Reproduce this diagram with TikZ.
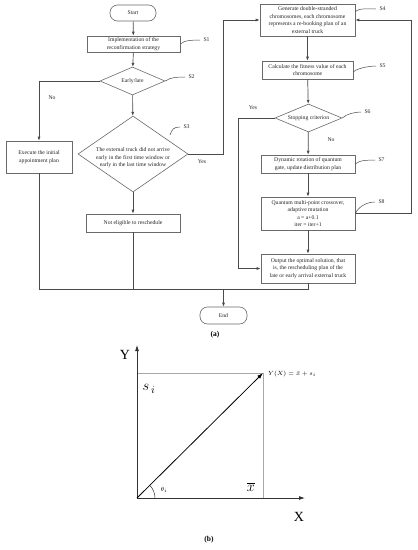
\documentclass[tikz,border=0pt]{standalone}
\usepackage{fontspec}
\setmainfont{Liberation Serif}
\usetikzlibrary{shapes.geometric,arrows.meta,calc}
\definecolor{boxgray}{HTML}{6A6A6A}
\definecolor{linegray}{HTML}{4A4A4A}
\definecolor{guidegray}{HTML}{A8A8A8}
\begin{document}
\begin{tikzpicture}[x=1pt,y=-1pt,
 box/.style={draw=boxgray, line width=0.6pt, rectangle, align=center, font=\fontsize{5.7}{7.6}\selectfont, inner sep=0pt, text=black!85},
 term/.style={box, rounded corners=7.5pt},
 dia/.style={draw=boxgray, line width=0.6pt, diamond, inner sep=0pt},
 txt/.style={font=\fontsize{5.7}{7.6}\selectfont, align=center, text=black!85},
 conn/.style={draw=linegray, line width=0.7pt},
 arr/.style={conn, -{Latex[length=4pt,width=3pt]}},
 lead/.style={draw=linegray, line width=0.5pt},
 axis/.style={draw=black!80, line width=0.8pt, -{Latex[length=6pt,width=4pt]}},
 guide/.style={draw=guidegray, line width=0.7pt},
]
\useasboundingbox[fill=white] (0,0) rectangle (418,550);

% ---------- flowchart (a) ----------
\node[term, minimum width=46, minimum height=16] (start) at (133,13) {Start};
\node[box, minimum width=93, minimum height=16] (s1) at (133.5,44) {Implementation of the\\reconfirmation strategy};
\node[dia, minimum width=65, minimum height=28] (d1) at (132.5,81) {};
\node[txt] (d1t) at (d1) {Early/late};
\node[dia, minimum width=110, minimum height=76] (d2) at (133,154) {};
\node[txt] (d2t) at (133,158) {The external truck did not arrive\\early in the first time window or\\early in the last time window};
\node[box, minimum width=66, minimum height=32] (ex) at (39,157) {Execute the initial\\appointment plan};
\node[box, minimum width=94, minimum height=18] (ne) at (133,223) {Not eligible to reschedule};

\node[box, minimum width=95, minimum height=32] (s4) at (307.5,20) {Generate double-stranded\\chromosomes, each chromosome\\represents a re-booking plan of an\\external truck};
\node[box, minimum width=91, minimum height=18] (s5) at (307.5,70) {Calculate the fitness value of each\\chromosome};
\node[dia, minimum width=67, minimum height=28] (d6) at (308.5,118) {};
\node[txt] (d6t) at (d6) {Stopping criterion};
\node[box, minimum width=94, minimum height=18] (s7) at (308,164) {Dynamic rotation of quantum\\gate, update distribution plan};
\node[box, minimum width=94, minimum height=33] (s8) at (308,213.5) {Quantum multi-point crossover,\\adaptive mutation\\a = a+0.1\\iter = iter+1};
\node[box, minimum width=94, minimum height=29] (out) at (308,268.5) {Output the optimal solution, that\\is, the rescheduling plan of the\\late or early arrival external truck};
\node[term, minimum width=47, minimum height=17] (end) at (223.5,315.5) {End};

% step labels
\node[txt, anchor=west] (l1) at (200,40) {S1};
\node[txt, anchor=west] (l2) at (185,77) {S2};
\node[txt, anchor=west] (l3) at (180,127) {S3};
\node[txt, anchor=west] (l4) at (376,9) {S4};
\node[txt, anchor=west] (l5) at (376,66) {S5};
\node[txt, anchor=west] (l6) at (361,112) {S6};
\node[txt, anchor=west] (l7) at (375,160) {S7};
\node[txt, anchor=west] (l8) at (375,202) {S8};

\draw[lead] (s1.east) .. controls +(4,-4) and +(-6,0) .. (l1.west);
\draw[lead] (d1.east) .. controls +(5,-4) and +(-6,0) .. (l2.west);
\draw[lead] (170,135) .. controls +(2,-6) and +(-6,0) .. (l3.west);
\draw[lead] ($(s4.north east)+(0,8)$) .. controls +(4,-4) and +(-6,0) .. (l4.west);
\draw[lead] ($(s5.east)+(0,2)$) .. controls +(4,-4) and +(-6,0) .. (l5.west);
\draw[lead] (d6.east) .. controls +(4,-4) and +(-6,0) .. (l6.west);
\draw[lead] (s7.east) .. controls +(4,-4) and +(-6,0) .. (l7.west);
\draw[lead] (s8.east) .. controls +(4,-8) and +(-7,0) .. (l8.west);

% branch labels
\node[txt] (no1) at (52,98) {No};
\node[txt] (yes3) at (202,162) {Yes};
\node[txt] (yes6) at (253,108) {Yes};
\node[txt] (no6) at (331,140) {No};

% connectors
\draw[arr] (start) -- (s1);
\draw[arr] (s1) -- (d1);
\draw[arr] (d1) -- (d2);
\draw[arr] (d1.west) -| (ex.north);
\draw[arr] (d2) -- (ne);
\draw[arr] (d2.east) -- ++(35,0) |- (s4.west);
\draw[arr] (s4) -- (s5);
\draw[arr] (s5) -- (d6);
\draw[arr] (d6) -- (s7);
\draw[arr] (s7) -- (s8);
\draw[arr] (s8) -- (out);
\draw[arr] (d6.west) -- ++(-36,0) |- (out.west);
\draw[arr] (s8.east) -- ++(56,0) |- (s4.east);
\coordinate (jl) at (ex.south |- 0,289);
\coordinate (jr) at (out.south |- 0,289);
\coordinate (jm) at (end.north |- 0,289);
\draw[conn] (ex.south) -- (jl) -- (jr) -- (out.south);
\draw[conn] (ne.south) -- (ne.south |- jl);
\draw[arr] (jm) -- (end.north);

\node[font=\fontsize{7.5}{9}\selectfont\bfseries] (capa) at (215,335) {(a)};

% ---------- diagram (b) ----------
\coordinate (O) at (137,498);
\coordinate (P) at (263,373);
\draw[guide] (O |- P) -- (P) -- (P |- O);
\draw[axis] (O) -- (137,345);
\draw[axis] (O) -- (305,498);
\draw[draw=black, line width=0.8pt, -{Latex[length=6pt,width=4pt]}] (O) -- (P);
\draw[draw=black!80, line width=0.5pt] ($(O)+(18,0)$) arc[start angle=0, end angle=-45, radius=18];
\node[font=\fontsize{14}{16}\selectfont] (Ylab) at (125,355) {Y};
\node[font=\fontsize{14}{16}\selectfont] (Xlab) at (299,517) {X};
\node[font=\fontsize{15}{17}\selectfont] (si) at (149,389) {$s_{\,i}$};
\node[font=\fontsize{15}{17}\selectfont] (xb) at (251,487) {$\overline{x}$};
\node[font=\fontsize{6}{7}\selectfont] (th) at (164,490) {$\theta_i$};
\node[font=\fontsize{6}{7}\selectfont, anchor=west, inner sep=1pt] (yx) at (267,374) {$Y(X)=\bar{x}+s_i$};
\node[font=\fontsize{7.5}{9}\selectfont\bfseries] (capb) at (209,540) {(b)};
\end{tikzpicture}
\end{document}
